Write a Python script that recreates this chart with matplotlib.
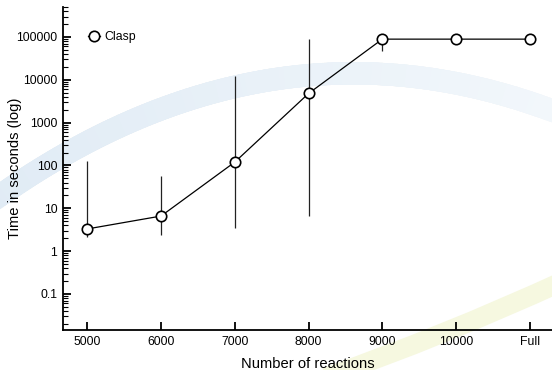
import numpy as np
import matplotlib.pyplot as plt
from matplotlib.path import Path
from matplotlib.patches import PathPatch
from matplotlib.collections import LineCollection
from matplotlib.colors import to_rgb

plt.rcParams['font.family'] = ['Liberation Sans', 'DejaVu Sans']

# Дані
categories = ['5000', '6000', '7000', '8000', '9000', '10000', 'Full']
times = [3.3, 6.6, 120, 4800, 89000, 89000, 89000]
err_low = [2.15, 2.4, 3.5, 6.6, 47000, 89000, 89000]
err_high = [128, 57, 12500, 91000, 90000, 89000, 89000]
series_name = 'Clasp'

x = np.arange(len(categories))
yerr = [np.array(times) - np.array(err_low), np.array(err_high) - np.array(times)]

fig = plt.figure(figsize=(5.52, 3.70), dpi=100)

# Фонові смуги (декор), синя з плавним згасанням праворуч
t = np.linspace(0, 1, 120)[:, None]
p0, c, p2 = np.array([-0.02, 0.45]), np.array([0.49, 1.0]), np.array([1.02, 0.69])
pts = (1 - t) ** 2 * p0 + 2 * t * (1 - t) * c + t ** 2 * p2
segs = np.stack([pts[:-1], pts[1:]], axis=1)
c_left, c_right = np.array(to_rgb('#e0ebf5')), np.array(to_rgb('#f2f7fb'))
w = np.linspace(0, 1, len(segs))[:, None]
cols = c_left * (1 - w) + c_right * w
lc = LineCollection(segs, colors=cols, linewidths=16, transform=fig.transFigure,
                    zorder=-10, capstyle='projecting')
fig.add_artist(lc)
yellow = Path([(0.59, -0.02), (0.80, 0.09), (1.02, 0.24)],
              [Path.MOVETO, Path.CURVE3, Path.CURVE3])
fig.patches.append(PathPatch(yellow, transform=fig.transFigure, fill=False,
                             edgecolor='#f6f8e0', lw=14, zorder=-10))

ax = fig.add_axes([0.114, 0.108, 0.886, 0.873])
ax.patch.set_alpha(0)

ax.errorbar(x, times, yerr=yerr, fmt='none', ecolor='#222222', elinewidth=0.9, capsize=0)
ax.plot(x, times, color='black', lw=0.9, marker='o', markersize=7.5,
        markerfacecolor='white', markeredgecolor='black', markeredgewidth=1.2,
        label=series_name)

ax.set_yscale('log')
ax.set_ylim(0.0144, 5e5)
ax.set_xlim(-0.33, 6.3)
ax.set_xticks(x)
ax.set_xticklabels(categories)
yt = [0.1, 1, 10, 100, 1000, 10000, 100000]
ax.set_yticks(yt)
ax.set_yticklabels(['0.1', '1', '10', '100', '1000', '10000', '100000'])

for s in ['top', 'right']:
    ax.spines[s].set_visible(False)
for s in ['left', 'bottom']:
    ax.spines[s].set_linewidth(1.3)

ax.tick_params(axis='both', which='major', direction='in', length=6, width=1.3,
               labelsize=8.8, pad=4)
ax.tick_params(axis='y', which='minor', direction='in', length=3.5, width=0.8)
ax.tick_params(axis='x', which='minor', bottom=False)

ax.set_xlabel('Number of reactions', fontsize=10.6, labelpad=7)
ax.set_ylabel('Time in seconds (log)', fontsize=10.6)
ax.yaxis.set_label_coords(-0.084, 0.5)

ax.legend(loc='center left', bbox_to_anchor=(0.029, 0.907), frameon=False,
          handlelength=1.0, handletextpad=0.35, fontsize=8.8)

plt.savefig('out.png', dpi=100)
